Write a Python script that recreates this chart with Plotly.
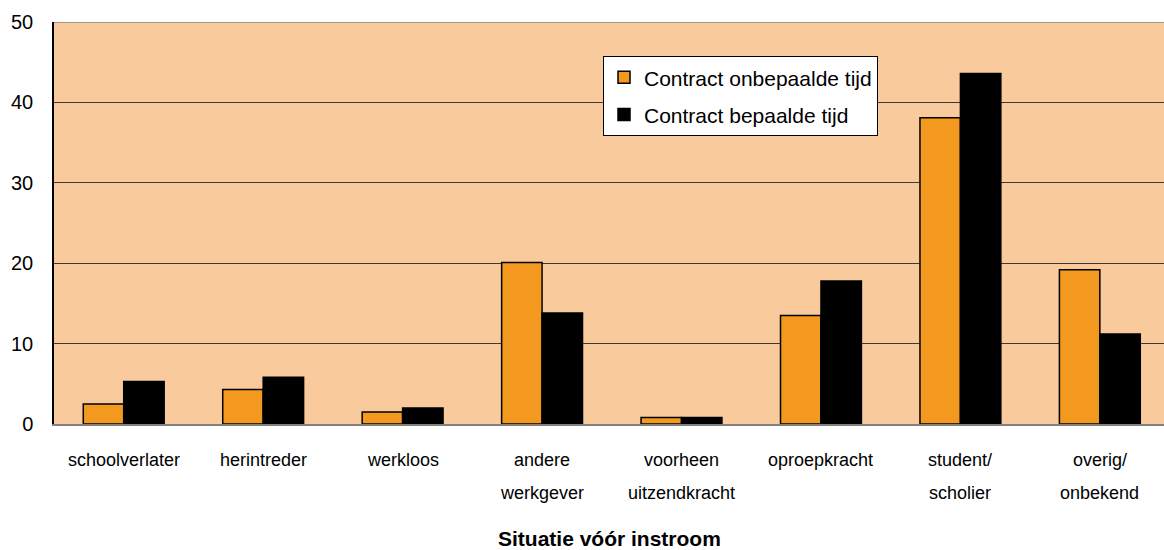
import plotly.graph_objects as go

categories = ["schoolverlater", "herintreder", "werkloos", "andere werkgever",
              "voorheen uitzendkracht", "oproepkracht", "student/ scholier", "overig/ onbekend"]
label_line1 = ["schoolverlater", "herintreder", "werkloos", "andere",
               "voorheen", "oproepkracht", "student/", "overig/"]
label_line2 = ["", "", "", "werkgever", "uitzendkracht", "", "scholier", "onbekend"]
onbepaald = [2.5, 4.3, 1.5, 20.1, 0.8, 13.5, 38.1, 19.2]
bepaald = [5.3, 5.8, 2.0, 13.8, 0.8, 17.8, 43.6, 11.2]
series_names = ["Contract onbepaalde tijd", "Contract bepaalde tijd"]
y_ticks = [0, 10, 20, 30, 40, 50]

FONT = "Liberation Sans, Arial, sans-serif"

fig = go.Figure()
fig.add_trace(go.Bar(x=categories, y=onbepaald, name=series_names[0], legendgroup="a",
                     marker=dict(color="#F4991F", line=dict(color="#000000", width=1.5))))
fig.add_trace(go.Bar(x=categories, y=bepaald, name=series_names[1], legendgroup="b",
                     marker=dict(color="#000000", line=dict(color="#000000", width=1.5))))

annotations = []
for c, l1, l2 in zip(categories, label_line1, label_line2):
    annotations.append(dict(x=c, xref="x", y=0, yref="paper", text=l1, showarrow=False,
                            yanchor="middle", yshift=-36, font=dict(size=18, color="#000", family=FONT)))
    if l2:
        annotations.append(dict(x=c, xref="x", y=0, yref="paper", text=l2, showarrow=False,
                                yanchor="middle", yshift=-69, font=dict(size=18, color="#000", family=FONT)))
annotations.append(dict(x=0.5, xref="paper", y=0, yref="paper", text="<b>Situatie vóór instroom</b>",
                        showarrow=False, yanchor="middle", yshift=-114,
                        font=dict(size=21, color="#000", family=FONT)))

fig.update_layout(
    width=1164, height=550,
    margin=dict(l=54, r=0, t=22, b=126),
    paper_bgcolor="white", plot_bgcolor="#F9CB9C",
    barmode="group", bargap=0.42, bargroupgap=0,
    font=dict(family=FONT, color="#000"),
    showlegend=True,
    legend=dict(x=0.4946, y=0.915, xanchor="left", yanchor="top",
                bgcolor="white", bordercolor="#000", borderwidth=1,
                font=dict(size=21, family=FONT, color="#000"),
                traceorder="grouped", tracegroupgap=7),
    xaxis=dict(showticklabels=False, ticks="", showline=True, linecolor="#808080", linewidth=1.5,
               showgrid=False, range=[-0.5, 7.46]),
    yaxis=dict(range=[0, 50], tickvals=y_ticks, showgrid=True, gridcolor="#3a3a3a", gridwidth=1,
               showline=True, linecolor="#000", linewidth=1.5, ticks="", zeroline=False,
               tickfont=dict(size=20, family=FONT, color="#000"), ticklabelstandoff=15),
    annotations=annotations,
    shapes=[dict(type="line", xref="paper", yref="y", x0=0, x1=1, y0=50, y1=50,
                 line=dict(color="#808080", width=1.5))],
)

fig.write_html("out.html", config={"displayModeBar": False},
               post_script="document.body.style.margin='0';document.body.style.overflow='hidden';")
